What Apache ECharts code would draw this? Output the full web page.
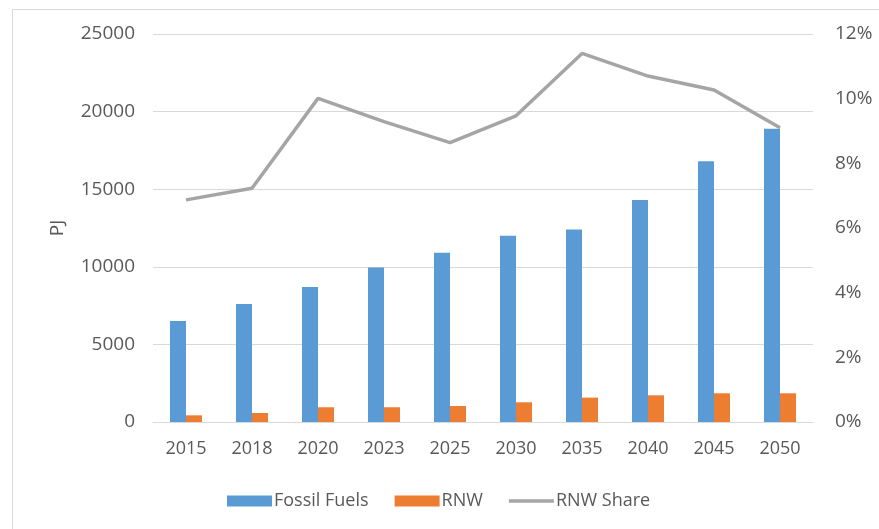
<!DOCTYPE html>
<html>
<head>
<meta charset="utf-8">
<script src="https://cdn.jsdelivr.net/npm/echarts@6/dist/echarts.min.js"></script>
<style>
html,body{margin:0;padding:0;background:#fff;}
#chart{width:879px;height:529px;}
</style>
</head>
<body>
<div id="chart"></div>
<script>
const years = ['2015','2018','2020','2023','2025','2030','2035','2040','2045','2050'];
const fossilFuels = [6500, 7600, 8700, 9950, 10900, 12000, 12400, 14300, 16800, 18900];
const rnw = [430, 580, 950, 950, 1030, 1270, 1570, 1720, 1850, 1850];
const rnwShare = [6.87, 7.23, 10.01, 9.29, 8.64, 9.47, 11.40, 10.70, 10.27, 9.10];
const leftTicks = [0, 5000, 25000];
const rightTicks = [0, 12];

const textColor = '#595959';
const fontFam = '"Open Sans", "Liberation Sans", sans-serif';
const chart = echarts.init(document.getElementById('chart'));
chart.setOption({
  animation: false,
  backgroundColor: '#fff',
  graphic: [{
    type: 'rect', left: 10, top: 7,
    shape: {width: 900, height: 560},
    style: {fill: 'none', stroke: '#D9D9D9', lineWidth: 1}
  }],
  grid: {left: 153, right: 66, top: 34, bottom: 107},
  legend: {
    left: 222, top: 487,
    itemWidth: 45, itemHeight: 11, itemGap: 26,
    textStyle: {color: textColor, fontSize: 18, fontFamily: fontFam, padding: [0,0,0,-3]},
    data: [
      {name: 'Fossil Fuels', icon: 'rect'},
      {name: 'RNW', icon: 'rect'},
      {name: 'RNW Share', icon: 'path://M0,0 L45,0 L45,3.5 L0,3.5 Z'}
    ]
  },
  xAxis: {
    type: 'category', data: years,
    axisLine: {lineStyle: {color: '#D9D9D9', width: 1}},
    axisTick: {show: false},
    axisLabel: {color: textColor, fontSize: 18, fontFamily: fontFam, margin: 18}
  },
  yAxis: [{
    type: 'value', min: leftTicks[0], max: leftTicks[2], interval: leftTicks[1],
    name: 'PJ', nameLocation: 'middle', nameGap: 86, nameRotate: 90,
    nameTextStyle: {color: textColor, fontSize: 19, fontFamily: fontFam},
    axisLine: {show: false}, axisTick: {show: false},
    splitLine: {lineStyle: {color: '#D9D9D9', width: 1}},
    axisLabel: {color: textColor, fontSize: 19, fontFamily: fontFam, margin: 18, formatter: v => String(v)}
  }, {
    type: 'value', min: rightTicks[0], max: rightTicks[1], interval: 2,
    position: 'right',
    axisLine: {show: false}, axisTick: {show: false}, splitLine: {show: false},
    axisLabel: {color: textColor, fontSize: 19, fontFamily: fontFam, margin: 22, formatter: '{value}%'}
  }],
  series: [{
    name: 'Fossil Fuels', type: 'bar', data: fossilFuels,
    barWidth: 16, barGap: '0%',
    itemStyle: {color: '#5B9BD5'}
  }, {
    name: 'RNW', type: 'bar', data: rnw,
    barWidth: 16, barGap: '0%',
    itemStyle: {color: '#ED7D31'}
  }, {
    name: 'RNW Share', type: 'line', yAxisIndex: 1, data: rnwShare,
    symbol: 'none', showSymbol: false,
    lineStyle: {color: '#A5A5A5', width: 3.5},
    itemStyle: {color: '#A5A5A5'}
  }]
});
</script>
</body>
</html>
